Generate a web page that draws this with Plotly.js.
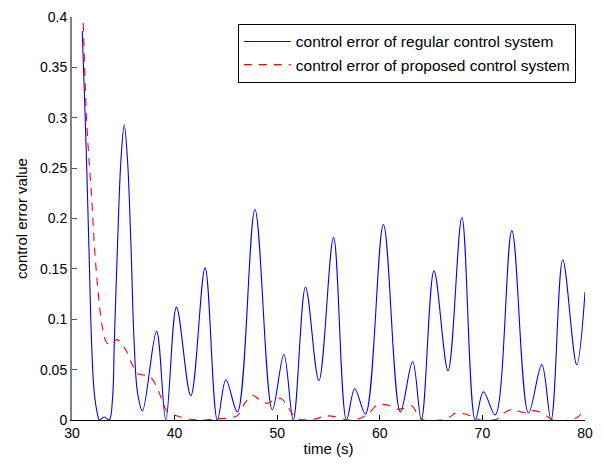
<!DOCTYPE html>
<html>
<head>
<meta charset="utf-8">
<script src="https://cdn.plot.ly/plotly-3.0.1.min.js"></script>
<style>html,body{margin:0;padding:0;background:#fff;}#chart{width:603px;height:464px;}</style>
</head>
<body>
<div id="chart"></div>
<script>
// Regular control system error (blue, solid)
const tRegular = [31.0,31.26,31.46,31.68,31.91,32.17,32.5,32.66,33.14,33.63,33.96,34.12,34.44,34.77,35.09,35.41,35.74,36.06,36.39,36.87,
  38.24,39.14,40.18,41.58,42.97,44.17,45.0,46.12,47.83,49.52,50.65,51.56,52.76,54.06,55.49,56.75,57.56,58.6,60.35,62.0,
  63.2,64.05,65.28,66.65,68.0,69.3,70.1,71.25,72.87,74.49,75.79,76.69,77.83,79.19,80.0];
const eRegular = [0.386,0.308,0.242,0.159,0.076,0.027,0.005,0.0,0.003,0.0,0.023,0.076,0.175,0.258,0.293,0.258,0.175,0.076,0.027,0.009,
  0.088,0.0,0.112,0.024,0.151,0.0,0.040,0.008,0.209,0.010,0.065,0.0,0.132,0.039,0.181,0.0,0.031,0.006,0.194,0.008,
  0.058,0.0,0.148,0.049,0.201,0.0,0.028,0.005,0.188,0.007,0.055,0.0,0.159,0.055,0.127];

// Proposed control system error (red, dashed)
const tProposed = [31.1,31.26,31.46,31.68,31.91,32.17,32.5,32.89,33.31,33.8,34.38,35.25,35.73,36.39,37.03,37.6,38.0,38.66,39.3,39.95,
  41.4,42.87,44.0,45.47,46.12,46.93,47.58,48.22,49.03,50.0,50.5,50.98,51.63,52.1,53.57,54.7,55.68,56.82,58.1,59.09,
  59.74,60.71,61.68,62.33,63.14,63.63,64.27,65.9,66.87,67.35,68.33,68.98,69.79,70.76,71.41,72.05,72.87,73.35,74.16,74.81,
  75.79,76.43,76.92,78.54,79.35,79.83,80.0];
const eProposed = [0.394,0.341,0.291,0.255,0.222,0.175,0.132,0.096,0.078,0.074,0.080,0.0695,0.058,0.046,0.0447,0.043,0.038,0.023,0.008,0.005,
  0.001,0.0,0.001,0.0023,0.0043,0.018,0.0248,0.0205,0.0165,0.0215,0.0205,0.014,0.004,0.0007,0.0007,0.004,0.0033,0.0,0.0017,0.0083,
  0.015,0.015,0.0106,0.0116,0.0139,0.0066,0.0,0.0,0.0033,0.0066,0.006,0.0033,0.0,0.0,0.0007,0.0066,0.0106,0.0093,0.0073,0.0093,
  0.0073,0.0027,0.0,0.0,0.0033,0.0083,0.009];

const xTicks = [30,40,50,60,70,80];
const yTicks = [0,0.05,0.1,0.15,0.2,0.25,0.3,0.35,0.4];
const yTickText = ['0','0.05','0.1','0.15','0.2','0.25','0.3','0.35','0.4'];

const font = 'Liberation Sans, Arial, Helvetica, sans-serif';

const traces = [
  {x: tRegular, y: eRegular, type: 'scatter', mode: 'lines',
   name: 'control error of regular control system',
   line: {color: '#0000ff', width: 1.1, shape: 'spline', smoothing: 1}},
  {x: tProposed, y: eProposed, type: 'scatter', mode: 'lines',
   name: 'control error of proposed control system',
   line: {color: '#ff0000', width: 1.1, dash: '8px,7px', shape: 'spline', smoothing: 0.8}}
];

const layout = {
  width: 603, height: 464,
  margin: {l: 72, r: 18, t: 17, b: 44, pad: 0},
  paper_bgcolor: '#fff', plot_bgcolor: '#fff',
  font: {family: font, size: 14, color: '#000'},
  showlegend: true,
  legend: {x: 0.982, xanchor: 'right', y: 0.983, yanchor: 'top',
    bgcolor: '#fff', bordercolor: '#000', borderwidth: 1, itemwidth: 47,
    font: {family: font, size: 15.5, color: '#000'}, tracegroupgap: 0},
  xaxis: {range: [30, 80], tickvals: xTicks, ticktext: xTicks.map(String),
    ticks: 'inside', ticklen: 5, tickwidth: 1, tickcolor: '#000',
    showline: true, linecolor: '#000', linewidth: 1, mirror: false,
    showgrid: false, zeroline: false,
    tickfont: {family: font, size: 14, color: '#000'},
    title: {text: 'time (s)', font: {family: font, size: 15, color: '#000'}, standoff: 3}},
  yaxis: {range: [0, 0.4], tickvals: yTicks, ticktext: yTickText,
    ticks: 'inside', ticklen: 5, tickwidth: 1, tickcolor: '#555',
    showline: true, linecolor: '#808080', linewidth: 2, mirror: false,
    showgrid: false, zeroline: false,
    tickfont: {family: font, size: 14, color: '#000'},
    title: {text: 'control error value', font: {family: font, size: 15, color: '#000'}, standoff: 9}}
};

Plotly.newPlot('chart', traces, layout, {displayModeBar: false, staticPlot: true});
</script>
</body>
</html>
